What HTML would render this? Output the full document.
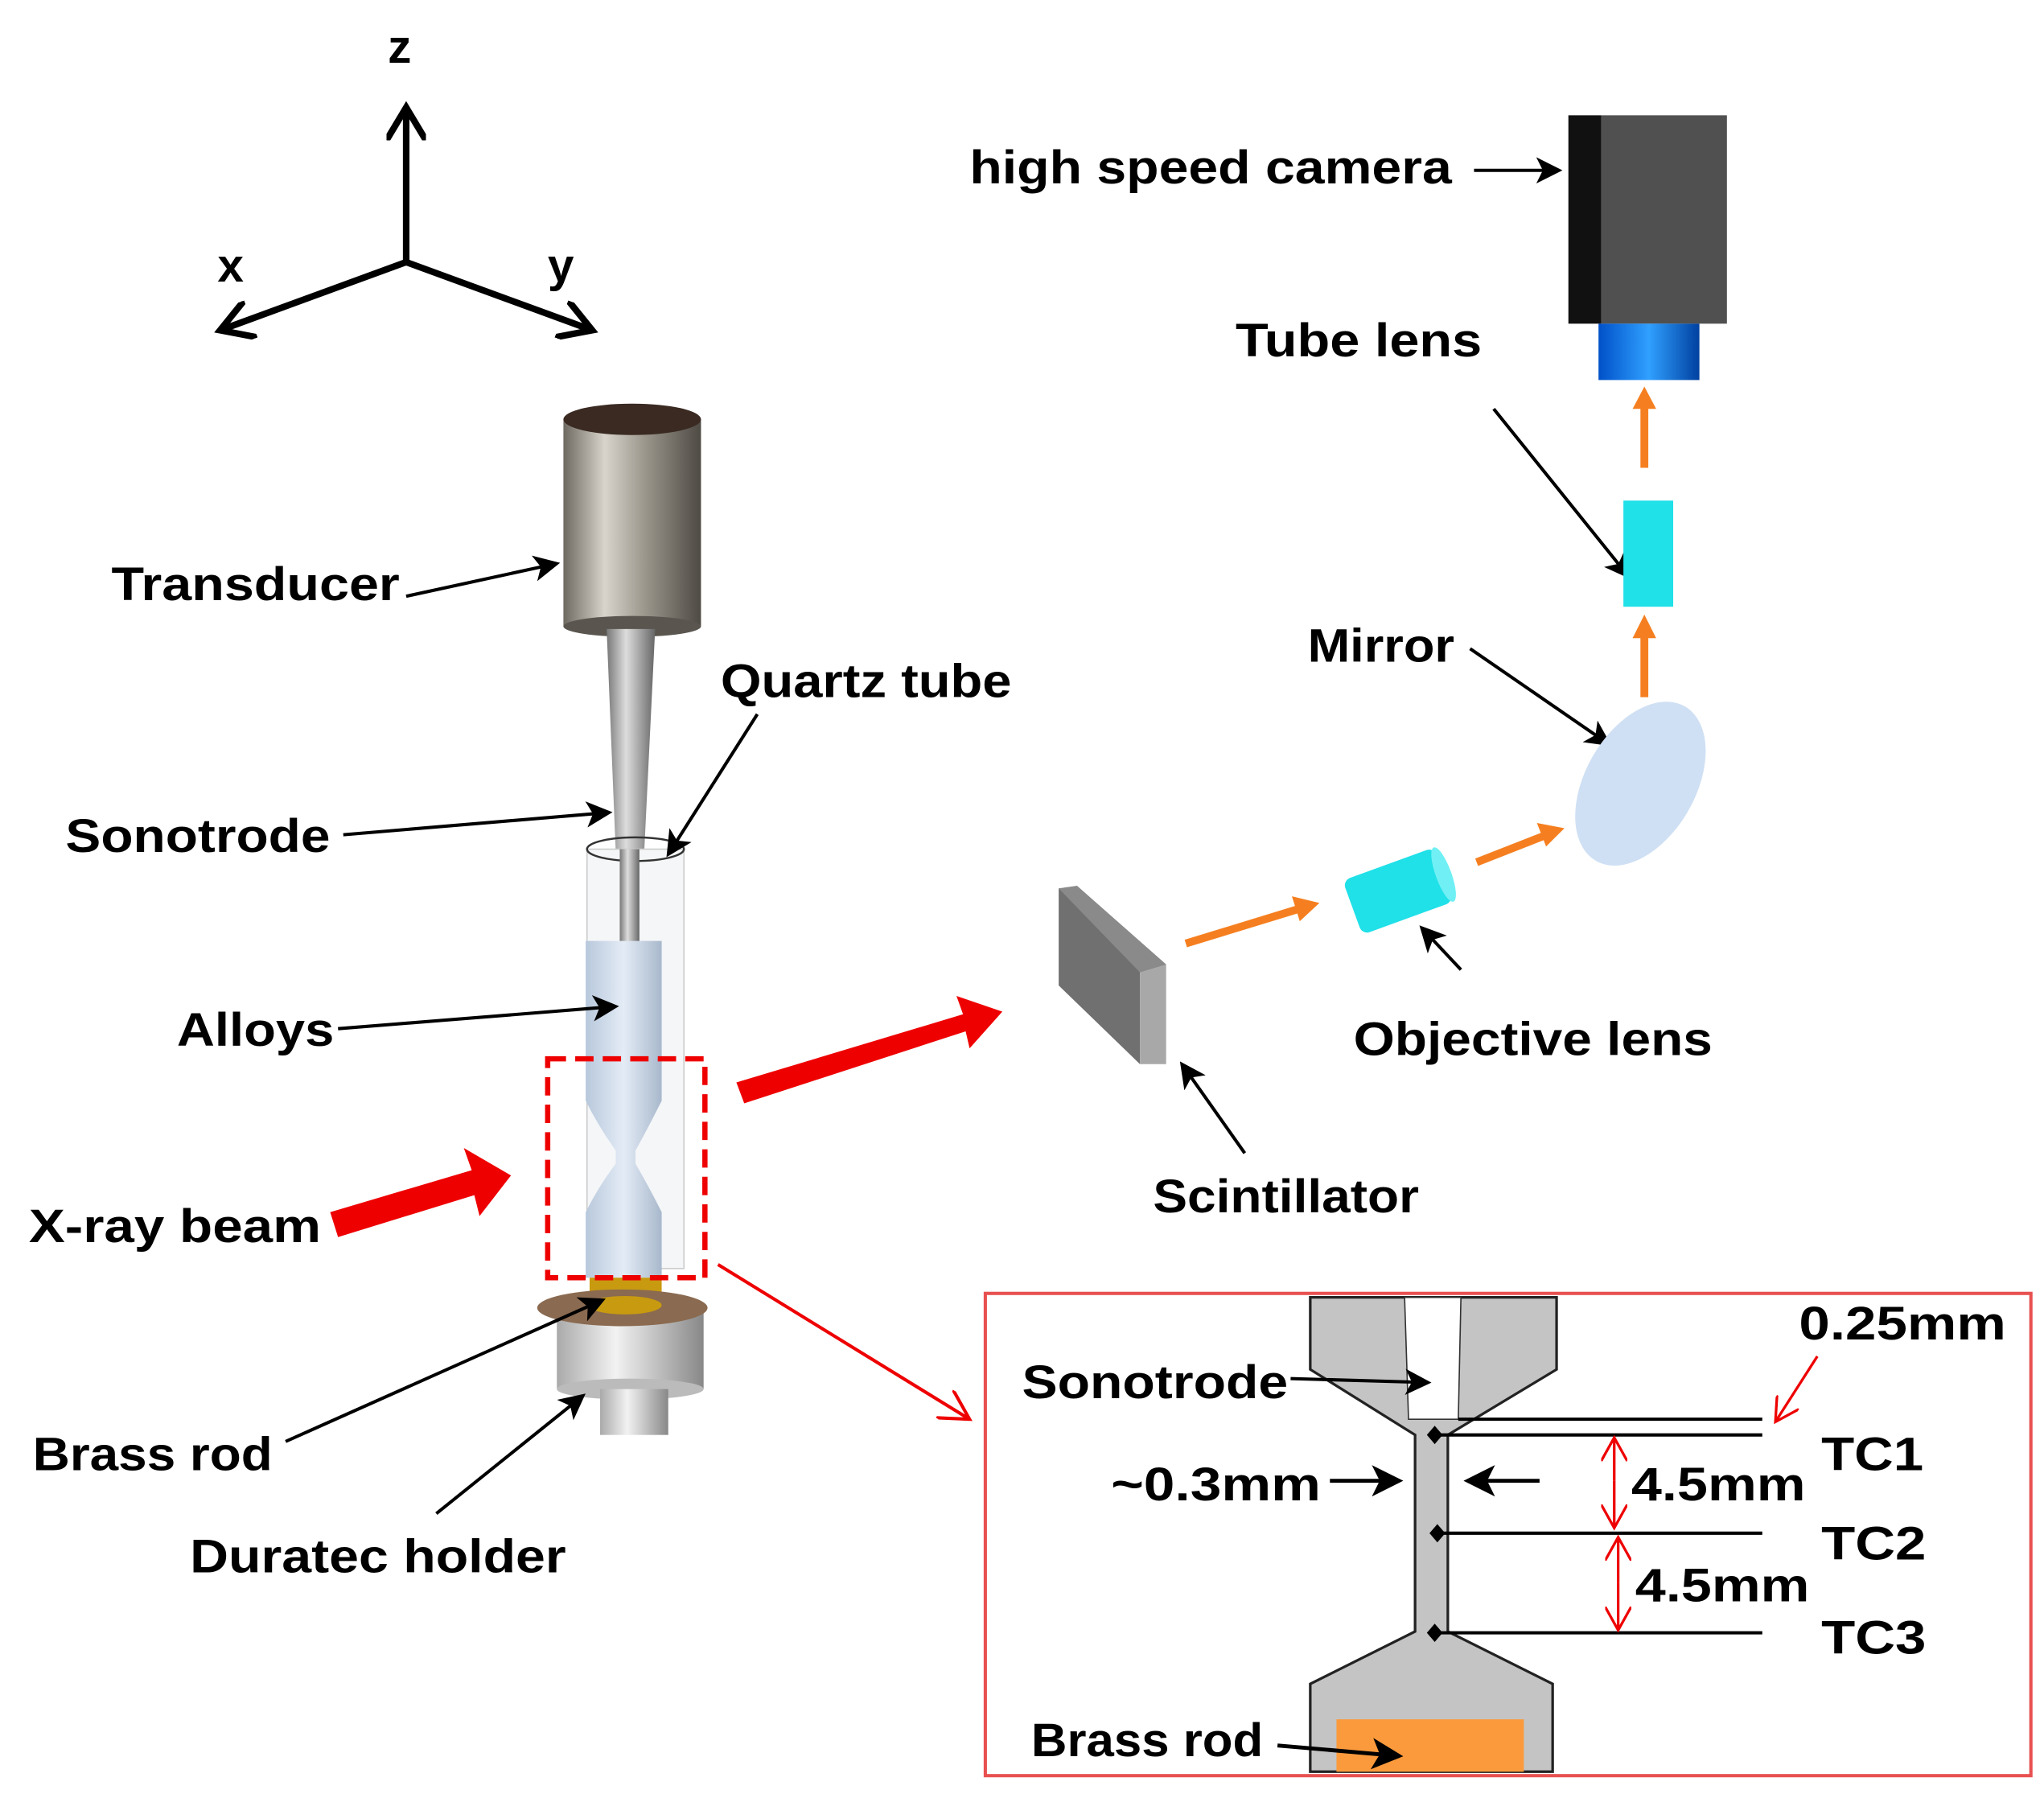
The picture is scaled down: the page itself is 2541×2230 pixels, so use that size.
<!DOCTYPE html>
<html><head><meta charset="utf-8"><style>html,body{margin:0;padding:0;background:#fff}svg{display:block}
text{font-family:"Liberation Sans",sans-serif;font-weight:bold;fill:#000;font-size:36px}</style></head>
<body>
<svg width="2541" height="2230" viewBox="0 0 1560 1369" preserveAspectRatio="none" xmlns="http://www.w3.org/2000/svg">
<defs>
<marker id="ah" markerWidth="8" markerHeight="8" refX="7" refY="4" orient="auto" markerUnits="strokeWidth"><path d="M0,0 L8,4 L0,8 L2,4z" fill="#000"/></marker>
<marker id="ax" markerWidth="6" markerHeight="6" refX="5" refY="3" orient="auto" markerUnits="strokeWidth"><path d="M0,0 L5,3 L0,6" fill="none" stroke="#000" stroke-width="1"/></marker>
<marker id="ar" markerWidth="8" markerHeight="8" refX="7" refY="4" orient="auto" markerUnits="strokeWidth"><path d="M0,0 L8,4 L0,8 L2,4z" fill="#e00"/></marker>
<marker id="ar2" markerWidth="10" markerHeight="10" refX="9" refY="5" orient="auto" markerUnits="strokeWidth"><path d="M0,0 L9,5 L0,10" fill="none" stroke="#e00" stroke-width="1"/></marker>
<linearGradient id="met" x1="0" x2="1"><stop offset="0" stop-color="#6e6a62"/><stop offset="0.3" stop-color="#d8d4cc"/><stop offset="0.6" stop-color="#9a958b"/><stop offset="1" stop-color="#4e4a44"/></linearGradient>
<linearGradient id="son" x1="0" x2="1"><stop offset="0" stop-color="#777"/><stop offset="0.4" stop-color="#ddd"/><stop offset="1" stop-color="#666"/></linearGradient>
<linearGradient id="alloy" x1="0" x2="1"><stop offset="0" stop-color="#b8c8dc"/><stop offset="0.5" stop-color="#e4ecf6"/><stop offset="1" stop-color="#a8b8cc"/></linearGradient>
<linearGradient id="hold" x1="0" x2="1"><stop offset="0" stop-color="#aaa"/><stop offset="0.4" stop-color="#f2f2f2"/><stop offset="1" stop-color="#888"/></linearGradient>
<linearGradient id="blue" x1="0" x2="1"><stop offset="0" stop-color="#0050c8"/><stop offset="0.5" stop-color="#30a0ff"/><stop offset="1" stop-color="#0040a0"/></linearGradient>
</defs>

<!-- axes -->
<g stroke="#000" stroke-width="5" fill="none" marker-end="url(#ax)">
<line x1="310" y1="200" x2="310" y2="82"/>
<line x1="310" y1="200" x2="168" y2="252"/>
<line x1="310" y1="200" x2="452" y2="252"/>
</g>
<text x="296" y="48" font-size="40">z</text>
<text x="166" y="215" font-size="40">x</text>
<text x="418" y="215" font-size="40">y</text>

<!-- transducer -->
<rect x="430" y="320" width="105" height="158" fill="url(#met)"/>
<ellipse cx="482.5" cy="478" rx="52.5" ry="8" fill="#5a564f"/>
<ellipse cx="482.5" cy="320" rx="52.5" ry="12" fill="#3a2a22"/>
<!-- sonotrode -->
<polygon points="463,480 500,480 488,725 473,725" fill="url(#son)"/>
<!-- quartz tube -->
<rect x="448" y="648" width="74" height="320" fill="#f4f6f8" stroke="#ccc" stroke-width="1"/>
<ellipse cx="485" cy="648" rx="37" ry="9" fill="none" stroke="#333" stroke-width="1.5"/>
<polygon points="473,648 488,648 488,725 473,725" fill="url(#son)"/>
<!-- alloys -->
<path d="M447,718 L505,718 L505,840 Q495,860 485,878 L485,888 Q495,905 505,925 L505,975 L447,975 L447,925 Q457,905 470,888 L470,878 Q457,860 447,840 Z" fill="url(#alloy)"/>
<rect x="450" y="975" width="55" height="25" fill="#c89a10"/>
<!-- holder -->
<rect x="425" y="1000" width="112" height="60" fill="url(#hold)"/>
<ellipse cx="481" cy="1060" rx="56" ry="8" fill="#bbb"/>
<rect x="458" y="1060" width="52" height="35" fill="url(#hold)"/>
<ellipse cx="475" cy="998" rx="65" ry="14" fill="#8a6a50"/>
<ellipse cx="477" cy="996" rx="28" ry="7" fill="#c89a10"/>
<!-- red dashed box -->
<rect x="418" y="808" width="120" height="167" fill="none" stroke="#e00" stroke-width="4" stroke-dasharray="14,7"/>
<!-- xray beam arrow -->
<polygon points="252,925 360,893 354,876 390,897 366,928 362,912 258,944" fill="#e00"/>
<polygon points="562,826 735,774 730,760 765,772 740,800 737,787 568,842" fill="#e00"/>
<line x1="548" y1="965" x2="740" y2="1083" stroke="#e00" stroke-width="2.5" marker-end="url(#ar2)"/>

<!-- left labels -->
<text x="85" y="458" textLength="220" lengthAdjust="spacingAndGlyphs">Transducer</text>
<line x1="310" y1="455" x2="425" y2="430" stroke="#000" stroke-width="2.5" marker-end="url(#ah)"/>
<text x="550" y="532" textLength="222" lengthAdjust="spacingAndGlyphs">Quartz tube</text>
<line x1="578" y1="545" x2="510" y2="652" stroke="#000" stroke-width="2.5" marker-end="url(#ah)"/>
<text x="50" y="650" textLength="202" lengthAdjust="spacingAndGlyphs">Sonotrode</text>
<line x1="262" y1="637" x2="465" y2="620" stroke="#000" stroke-width="2.5" marker-end="url(#ah)"/>
<text x="135" y="798" textLength="120" lengthAdjust="spacingAndGlyphs">Alloys</text>
<line x1="258" y1="785" x2="470" y2="768" stroke="#000" stroke-width="2.5" marker-end="url(#ah)"/>
<text x="22" y="948" textLength="223" lengthAdjust="spacingAndGlyphs">X-ray beam</text>
<text x="25" y="1122" textLength="183" lengthAdjust="spacingAndGlyphs">Brass rod</text>
<line x1="218" y1="1100" x2="460" y2="992" stroke="#000" stroke-width="2.5" marker-end="url(#ah)"/>
<text x="145" y="1200" textLength="287" lengthAdjust="spacingAndGlyphs">Duratec holder</text>
<line x1="333" y1="1155" x2="445" y2="1065" stroke="#000" stroke-width="2.5" marker-end="url(#ah)"/>

<!-- camera -->
<text x="740" y="140" textLength="368" lengthAdjust="spacingAndGlyphs">high speed camera</text>
<line x1="1125" y1="130" x2="1190" y2="130" stroke="#000" stroke-width="2.5" marker-end="url(#ah)"/>
<rect x="1222" y="88" width="96" height="159" fill="#505050"/>
<rect x="1197" y="88" width="25" height="159" fill="#111"/>
<rect x="1220" y="247" width="77" height="43" fill="url(#blue)"/>
<text x="943" y="272" textLength="188" lengthAdjust="spacingAndGlyphs">Tube lens</text>
<line x1="1140" y1="312" x2="1243" y2="440" stroke="#000" stroke-width="2.5" marker-end="url(#ah)"/>
<g stroke="#f57f20" stroke-width="6">
<line x1="1255" y1="357" x2="1255" y2="310"/>
<line x1="1255" y1="532" x2="1255" y2="485"/>
<line x1="905" y1="720" x2="990" y2="694"/>
<line x1="1127" y1="658" x2="1178" y2="638"/>
</g>
<g fill="#f57f20">
<polygon points="1246,312 1264,312 1255,295"/>
<polygon points="1246,487 1264,487 1255,469"/>
<polygon points="986,684 992,703 1007,689"/>
<polygon points="1173,628 1180,646 1194,632"/>
</g>
<rect x="1239" y="382" width="38" height="81" fill="#20e0e8"/>
<text x="998" y="505" textLength="112" lengthAdjust="spacingAndGlyphs">Mirror</text>
<line x1="1122" y1="495" x2="1228" y2="568" stroke="#000" stroke-width="2.5" marker-end="url(#ah)"/>
<ellipse cx="1252" cy="598" rx="42" ry="68" transform="rotate(30 1252 598)" fill="#cfe0f4"/>
<g transform="rotate(-20 1067 680)"><rect x="1030" y="658" width="74" height="44" rx="6" fill="#20e0e8"/><ellipse cx="1104" cy="680" rx="6" ry="22" fill="#70f0f4"/></g>
<text x="1033" y="805" textLength="274" lengthAdjust="spacingAndGlyphs">Objective lens</text>
<line x1="1115" y1="740" x2="1085" y2="708" stroke="#000" stroke-width="2.5" marker-end="url(#ah)"/>
<!-- scintillator -->
<polygon points="808,678 822,676 890,736 870,742 870,812 808,752" fill="#707070"/>
<polygon points="870,742 890,736 890,812 870,812" fill="#a8a8a8"/>
<polygon points="808,678 822,676 890,736 870,742" fill="#8a8a8a"/>
<text x="880" y="925" textLength="203" lengthAdjust="spacingAndGlyphs">Scintillator</text>
<line x1="950" y1="880" x2="902" y2="812" stroke="#000" stroke-width="2.5" marker-end="url(#ah)"/>

<!-- inset -->
<rect x="752" y="987" width="798" height="368" fill="#fff" stroke="#e85050" stroke-width="2.5"/>
<path d="M1000,990 L1188,990 L1188,1045 L1105,1095 L1105,1245 L1185,1285 L1185,1352 L1000,1352 L1000,1285 L1080,1245 L1080,1095 L1000,1045 Z" fill="#c4c4c4" stroke="#222" stroke-width="2"/>
<polygon points="1072,990 1115,990 1113,1083 1075,1083" fill="#fff" stroke="#333" stroke-width="1"/>
<rect x="1020" y="1312" width="143" height="40" fill="#fb9a3c"/>
<g stroke="#000" stroke-width="2.5">
<line x1="1113" y1="1083" x2="1345" y2="1083"/>
<line x1="1095" y1="1095" x2="1345" y2="1095"/>
<line x1="1095" y1="1170" x2="1345" y2="1170"/>
<line x1="1095" y1="1246" x2="1345" y2="1246"/>
</g>
<g fill="#000">
<polygon points="1095,1088 1101,1095 1095,1102 1089,1095"/>
<polygon points="1097,1163 1103,1170 1097,1177 1091,1170"/>
<polygon points="1095,1239 1101,1246 1095,1253 1089,1246"/>
</g>
<g stroke="#e00" stroke-width="2" marker-end="url(#ar2)">
<line x1="1232" y1="1130" x2="1232" y2="1097"/>
<line x1="1232" y1="1130" x2="1232" y2="1166"/>
<line x1="1235" y1="1208" x2="1235" y2="1173"/>
<line x1="1235" y1="1208" x2="1235" y2="1244"/>
<line x1="1387" y1="1035" x2="1355" y2="1085"/>
</g>
<text x="1373" y="1022" textLength="158" lengthAdjust="spacingAndGlyphs">0.25mm</text>
<text x="780" y="1067" textLength="203" lengthAdjust="spacingAndGlyphs">Sonotrode</text>
<line x1="985" y1="1052" x2="1090" y2="1055" stroke="#000" stroke-width="2.5" marker-end="url(#ah)"/>
<text x="1390" y="1122" textLength="78" lengthAdjust="spacingAndGlyphs" font-weight="normal">TC1</text>
<text x="1390" y="1190" textLength="80" lengthAdjust="spacingAndGlyphs" font-weight="normal">TC2</text>
<text x="1390" y="1262" textLength="80" lengthAdjust="spacingAndGlyphs" font-weight="normal">TC3</text>
<text x="1245" y="1145" textLength="133" lengthAdjust="spacingAndGlyphs">4.5mm</text>
<text x="1248" y="1222" textLength="133" lengthAdjust="spacingAndGlyphs">4.5mm</text>
<text x="848" y="1145" textLength="160" lengthAdjust="spacingAndGlyphs">~0.3mm</text>
<line x1="1015" y1="1130" x2="1068" y2="1130" stroke="#000" stroke-width="3" marker-end="url(#ah)"/>
<line x1="1175" y1="1130" x2="1120" y2="1130" stroke="#000" stroke-width="3" marker-end="url(#ah)"/>
<text x="787" y="1340" textLength="177" lengthAdjust="spacingAndGlyphs">Brass rod</text>
<line x1="975" y1="1332" x2="1068" y2="1340" stroke="#000" stroke-width="3" marker-end="url(#ah)"/>
</svg>
</body></html>
